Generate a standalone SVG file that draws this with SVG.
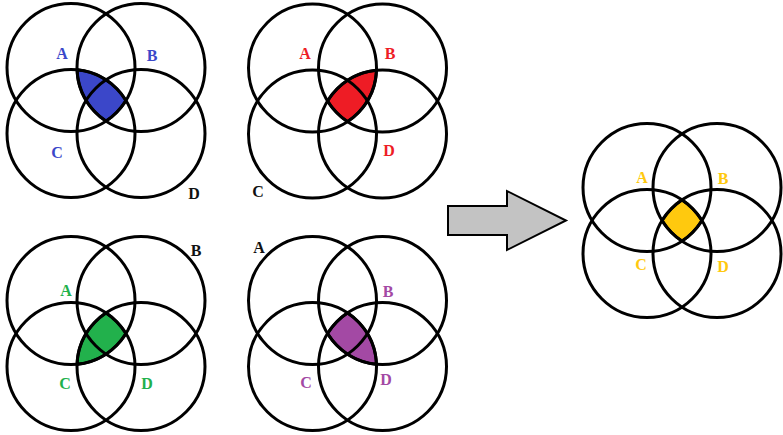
<svg xmlns="http://www.w3.org/2000/svg" xmlns:xlink="http://www.w3.org/1999/xlink" width="783" height="435" viewBox="0 0 783 435">
<style>
.ring{fill:none;stroke:#000;stroke-width:3}
.shade{stroke:#000;stroke-width:3;stroke-linejoin:round}
.lbl{font-family:"Liberation Serif","Times New Roman",serif;font-weight:bold;font-size:16px;text-anchor:middle}
.blue{fill:#3b47c9}.red{fill:#ee1c25}.green{fill:#22b14c}.purple{fill:#a349a4}.yellow{fill:#ffc90e}.dark{fill:#111}
</style>
<defs>
<g id="rings" class="ring">
<circle cx="-35" cy="-33" r="64"/>
<circle cx="35" cy="-33" r="64"/>
<circle cx="-35" cy="33" r="64"/>
<circle cx="35" cy="33" r="64"/>
</g>
</defs>
<rect width="783" height="435" fill="#fff"/>
<g id="venn-abc" transform="translate(106,100.5)">
<path class="shade blue" d="M-28.96,-30.72 A64,64 0 0 1 19.84,0 A64,64 0 0 1 0,20.58 A64,64 0 0 1 -28.96,-30.72 Z"/>
<use xlink:href="#rings" href="#rings"/>
<text class="lbl blue" x="-44" y="-42">A</text>
<text class="lbl blue" x="46" y="-40">B</text>
<text class="lbl blue" x="-49" y="57">C</text>
<text class="lbl dark" x="88" y="98">D</text>
</g>
<g id="venn-abd" transform="translate(347.5,101)">
<path class="shade red" d="M28.96,-30.72 A64,64 0 0 0 -19.84,0 A64,64 0 0 0 0,20.58 A64,64 0 0 0 28.96,-30.72 Z"/>
<use xlink:href="#rings" href="#rings"/>
<text class="lbl red" x="-42.5" y="-42.5">A</text>
<text class="lbl red" x="42.5" y="-42.5">B</text>
<text class="lbl dark" x="-89.5" y="95.5">C</text>
<text class="lbl red" x="41.5" y="54.5">D</text>
</g>
<g id="venn-acd" transform="translate(106,333.5)">
<path class="shade green" d="M-28.96,30.72 A64,64 0 0 0 19.84,0 A64,64 0 0 0 0,-20.58 A64,64 0 0 0 -28.96,30.72 Z"/>
<use xlink:href="#rings" href="#rings"/>
<text class="lbl green" x="-40" y="-38">A</text>
<text class="lbl dark" x="90" y="-78">B</text>
<text class="lbl green" x="-41" y="55">C</text>
<text class="lbl green" x="41" y="55">D</text>
</g>
<g id="venn-bcd" transform="translate(347.5,333.5)">
<path class="shade purple" d="M28.96,30.72 A64,64 0 0 1 -19.84,0 A64,64 0 0 1 0,-20.58 A64,64 0 0 1 28.96,30.72 Z"/>
<use xlink:href="#rings" href="#rings"/>
<text class="lbl dark" x="-88.5" y="-81">A</text>
<text class="lbl purple" x="40.5" y="-37">B</text>
<text class="lbl purple" x="-41.5" y="54">C</text>
<text class="lbl purple" x="38.5" y="51">D</text>
</g>
<g id="venn-abcd" transform="translate(682,220.5)">
<path class="shade yellow" d="M-19.84,0 A64,64 0 0 1 0,-20.58 A64,64 0 0 1 19.84,0 A64,64 0 0 1 0,20.58 A64,64 0 0 1 -19.84,0 Z"/>
<use xlink:href="#rings" href="#rings"/>
<text class="lbl yellow" x="-40" y="-38">A</text>
<text class="lbl yellow" x="41" y="-37">B</text>
<text class="lbl yellow" x="-41" y="49">C</text>
<text class="lbl yellow" x="41" y="51">D</text>
</g>
<g id="connectors">
<polygon points="448,206 507,206 507,191 566,220.5 507,250 507,235 448,235" fill="#c3c3c3" stroke="#000" stroke-width="2" stroke-linejoin="miter"/>
</g>
</svg>
